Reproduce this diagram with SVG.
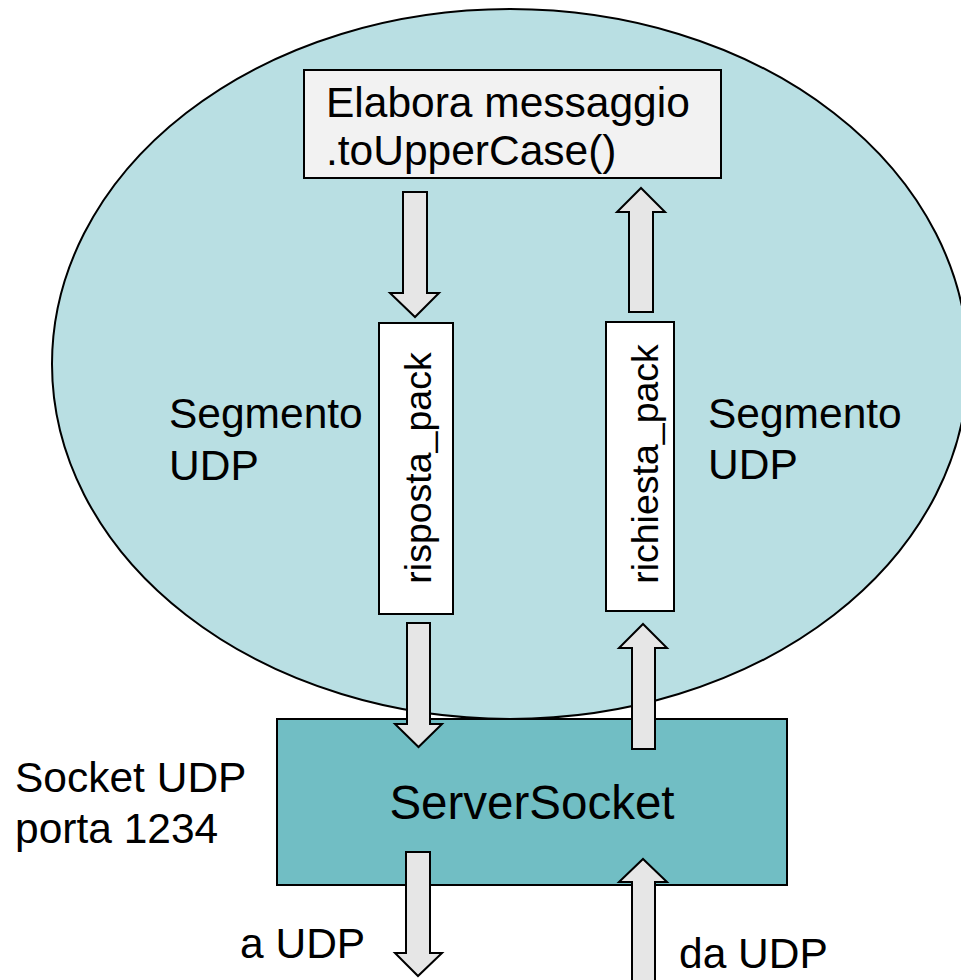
<svg xmlns="http://www.w3.org/2000/svg" width="961" height="980" viewBox="0 0 961 980">
<style>
text{font-family:"Liberation Sans",Arial,sans-serif;fill:#000}
.lbl{font-size:42.5px}
.arr{fill:#e6e6e6;stroke:#000;stroke-width:2;stroke-linejoin:miter}
.box{stroke:#000;stroke-width:2}
</style>
<rect x="0" y="0" width="961" height="980" fill="#fff"/>
<g id="process">
<ellipse cx="510" cy="364" rx="458" ry="355" fill="#b9dfe3" stroke="#000" stroke-width="2"/>
</g>
<g id="elabora">
<rect class="box" x="304" y="70" width="417" height="108" fill="#f2f2f2"/>
<text class="lbl" x="326" y="117">Elabora messaggio</text>
<text class="lbl" x="326" y="165">.toUpperCase()</text>
</g>
<g id="risposta">
<rect class="box" x="379" y="323" width="74" height="291" fill="#fff"/>
<text x="431" y="468" font-size="37.5" text-anchor="middle" transform="rotate(-90 431 468)">risposta_pack</text>
</g>
<g id="richiesta">
<rect class="box" x="606" y="322" width="68" height="289" fill="#fff"/>
<text x="658" y="464" font-size="37.5" text-anchor="middle" transform="rotate(-90 658 464)">richiesta_pack</text>
</g>
<g id="seg-left">
<text class="lbl" x="169" y="428">Segmento</text>
<text class="lbl" x="169" y="480">UDP</text>
</g>
<g id="seg-right">
<text class="lbl" x="708" y="428">Segmento</text>
<text class="lbl" x="708" y="479">UDP</text>
</g>
<g id="serversocket">
<rect class="box" x="277" y="719" width="510" height="166" fill="#71bec4"/>
<text x="532" y="819" font-size="47.5" text-anchor="middle">ServerSocket</text>
</g>
<g id="socket-label">
<text class="lbl" x="15" y="792">Socket UDP</text>
<text class="lbl" x="15" y="843">porta 1234</text>
</g>
<g id="a-udp"><text class="lbl" x="240" y="958">a UDP</text></g>
<g id="da-udp"><text class="lbl" x="679" y="968">da UDP</text></g>
<g id="connectors">
<polygon class="arr" points="403,192 427,192 427,293 439,293 415,317 390,293 403,293"/>
<polygon class="arr" points="629,312 653,312 653,212 665,212 641,188 617,212 629,212"/>
<polygon class="arr" points="407,623 430,623 430,724 442,724 418.5,747 395,724 407,724"/>
<polygon class="arr" points="632,749 655,749 655,648 667,648 643,624 619,648 632,648"/>
<polygon class="arr" points="406,852 430,852 430,953 442,953 418,976 395,953 406,953"/>
<polygon class="arr" points="632,992 655,992 655,882 667,882 643,859 619,882 632,882"/>
</g>
</svg>
